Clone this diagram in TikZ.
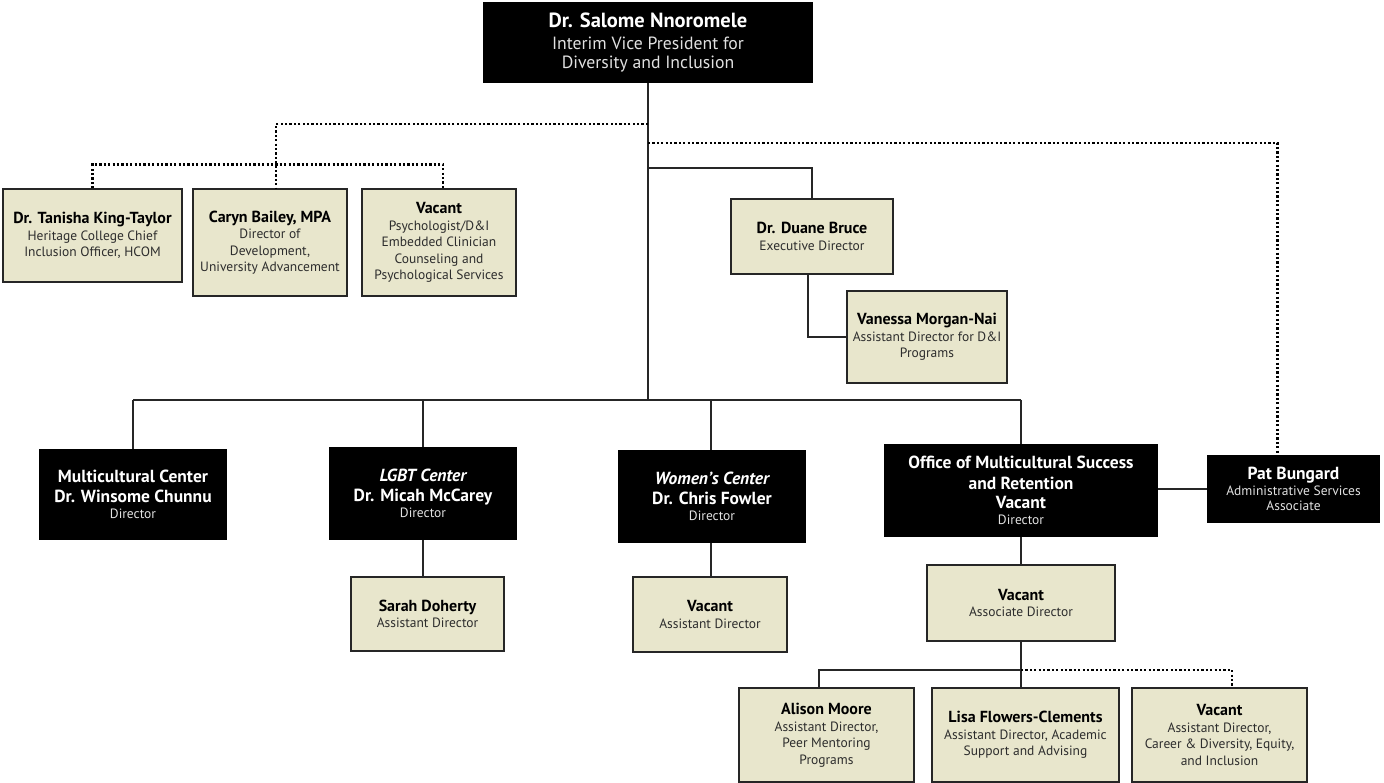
\documentclass[tikz,border=0pt]{standalone}
\usepackage{fontspec}
\setmainfont{PT Sans}
\definecolor{tanfill}{RGB}{232,230,204}
\definecolor{edge}{RGB}{38,38,38}
\definecolor{subdark}{RGB}{45,45,45}
\definecolor{sublight}{RGB}{225,225,225}
\newcommand\nmTop[1]{{\fontsize{20.5}{22}\selectfont\bfseries\color{white}#1}}
\newcommand\nmA[1]{{\fontsize{16}{17}\selectfont\bfseries\color{black}#1}}
\newcommand\nmB[1]{{\fontsize{17.5}{19}\selectfont\bfseries\color{white}#1}}
\begin{document}
\begin{tikzpicture}[x=1pt,y=-1pt]
\tikzset{
  bx/.style 2 args={minimum width=#1pt, minimum height=#2pt},
  tanbox/.style={fill=tanfill, draw=edge, line width=1.3pt, inner sep=0pt, align=center,
    text=subdark, font=\fontsize{13.5}{16.5}\selectfont},
  blkbox/.style={fill=black, inner sep=0pt, align=center,
    text=sublight, font=\fontsize{13.5}{15.5}\selectfont},
  conn/.style={draw=edge, line width=1.3pt},
  dots/.style={draw=black, line width=2.4pt, dash pattern=on 2.2pt off 2.2pt, line cap=butt}
}
\useasboundingbox (0,0) rectangle (1384,783);
\fill[white] (0,0) rectangle (1384,783);

% top
\node[blkbox, bx={330}{81}, font=\fontsize{17.7}{19.5}\selectfont] (top) at (648,42.5)
  {\nmTop{Dr. Salome Nnoromele}\\[2.5pt]Interim Vice President for\\Diversity and Inclusion};

% dotted-line row
\node[tanbox, bx={179}{93}] (kt) at (92.5,235.5)
  {\nmA{Dr. Tanisha King-Taylor}\\Heritage College Chief\\Inclusion Officer, HCOM};
\node[tanbox, bx={154}{107}] (cb) at (270,242.5)
  {\nmA{Caryn Bailey, MPA}\\Director of\\Development,\\University Advancement};
\node[tanbox, bx={154}{107}] (vp) at (439,242.5)
  {\nmA{Vacant}\\Psychologist/D\&I\\Embedded Clinician\\Counseling and\\Psychological Services};

% Duane Bruce branch
\node[tanbox, bx={162}{75}] (db) at (812,236.5)
  {\nmA{Dr. Duane Bruce}\\Executive Director};
\node[tanbox, bx={160}{92}] (vm) at (927,337)
  {\nmA{Vanessa Morgan-Nai}\\Assistant Director for D\&I\\Programs};

% centers
\node[blkbox, bx={188}{91}] (mc) at (133,494.5)
  {\nmB{Multicultural Center}\\[4.5pt]\nmB{Dr. Winsome Chunnu}\\Director};
\node[blkbox, bx={188}{93}] (lg) at (423,493.5)
  {\nmB{\itshape LGBT Center}\\[4.5pt]\nmB{Dr. Micah McCarey}\\Director};
\node[blkbox, bx={188}{93}] (wc) at (712,496.5)
  {\nmB{\itshape Women’s Center}\\[4.5pt]\nmB{Dr. Chris Fowler}\\Director};
\node[blkbox, bx={274}{93}] (om) at (1021,490.5)
  {\nmB{Office of Multicultural Success}\\[5.5pt]\nmB{and Retention}\\[3.5pt]\nmB{Vacant}\\Director};
\node[blkbox, bx={173}{68}] (pb) at (1293.5,489)
  {\nmB{Pat Bungard}\\[0.5pt]Administrative Services\\Associate};

% assistants
\node[tanbox, bx={153}{74}] (sd) at (427.5,614)
  {\nmA{Sarah Doherty}\\Assistant Director};
\node[tanbox, bx={154}{75}] (wv) at (710,614.5)
  {\nmA{Vacant}\\Assistant Director};
\node[tanbox, bx={188}{76}] (ad) at (1021,603)
  {\nmA{Vacant}\\Associate Director};
\node[tanbox, bx={175}{94}] (am) at (826.5,735)
  {\nmA{Alison Moore}\\Assistant Director,\\Peer Mentoring\\Programs};
\node[tanbox, bx={187}{94}] (lf) at (1025.5,735)
  {\nmA{Lisa Flowers-Clements}\\Assistant Director, Academic\\Support and Advising};
\node[tanbox, bx={175}{94}] (vc) at (1219.5,735)
  {\nmA{Vacant}\\Assistant Director,\\Career \& Diversity, Equity,\\and Inclusion};

% junction coordinates
\coordinate (busL) at (133,400);
\coordinate (busC) at (648,400);
\coordinate (busR) at (1021,400);
\coordinate (jDot1) at (648,124);
\coordinate (jDot2) at (648,143);
\coordinate (jDB) at (648,168);
\coordinate (lowJ) at (1021,670);

% solid connectors
\draw[conn] (top.south) -- (busC);
\draw[conn] (busL) -- (busR);
\draw[conn] (busL) -- (mc.north);
\draw[conn] (lg.north |- busL) -- (lg.north);
\draw[conn] ([xshift=-1pt]wc.north |- busL) -- ([xshift=-1pt]wc.north);
\draw[conn] (busR) -- (om.north);
\draw[conn] (jDB) -| (db.north);
\draw[conn] ([xshift=-4pt]db.south) |- (vm.west);
\draw[conn] (om.east |- pb.west) -- (pb.west);
\draw[conn] (lg.south) -- (lg.south |- sd.north);
\draw[conn] ([xshift=-1pt]wc.south) -- ([xshift=-1pt]wc.south |- wv.north);
\draw[conn] (om.south) -- (ad.north);
\draw[conn] (ad.south) -- (lowJ);
\draw[conn] (lowJ) -| ([xshift=-7.5pt]am.north);
\draw[conn] (lowJ) -- (lowJ |- lf.north);

% dotted connectors
\draw[dots] (jDot1) -| ([xshift=6pt]cb.north);
\draw[dots] (kt.north) -- ++(0,-24) -| ([xshift=4pt]vp.north);
\draw[dots] (jDot2) -| ([xshift=-16pt]pb.north);
\draw[dots] (lowJ) -| ([xshift=12.5pt]vc.north);
\end{tikzpicture}
\end{document}
